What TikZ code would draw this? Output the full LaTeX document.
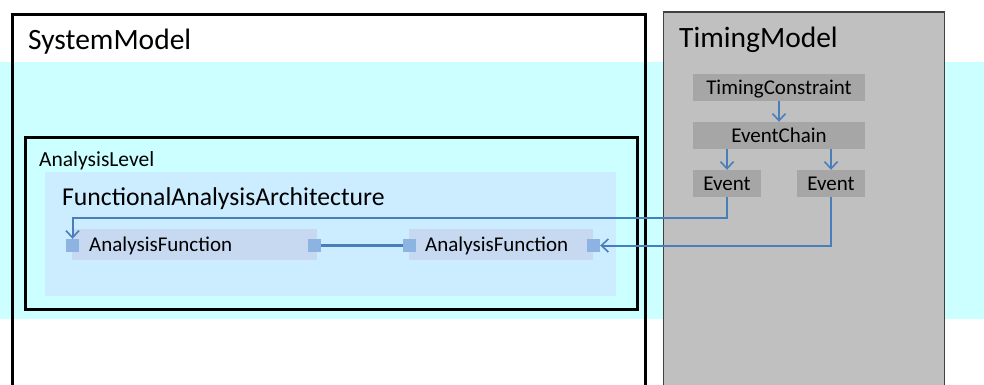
\documentclass[tikz,border=0pt]{standalone}
\usepackage{fontspec}
\setmainfont{Carlito}
\usetikzlibrary{arrows.meta}
\definecolor{bandcyan}{HTML}{CCFFFF}
\definecolor{faafill}{HTML}{CCECFF}
\definecolor{affill}{HTML}{C6D9F1}
\definecolor{portfill}{HTML}{8DB3E2}
\definecolor{linkblue}{HTML}{4A7EBB}
\definecolor{tmgray}{HTML}{C0C0C0}
\definecolor{tmborder}{HTML}{404040}
\definecolor{tbox}{HTML}{A6A6A6}
\tikzset{
  outerbox/.style={draw=black, line width=3pt, anchor=north west, inner sep=0pt},
  tmbox/.style={draw=tmborder, fill=tmgray, line width=1.5pt, anchor=north west, inner sep=0pt},
  faabox/.style={fill=faafill, anchor=north west, inner sep=0pt},
  afbox/.style={fill=affill, anchor=west, minimum height=31pt, inner ysep=0pt, align=left,
    font=\fontsize{21}{21}\selectfont, text height=13.8pt, text depth=0pt},
  port/.style={fill=portfill, minimum size=13pt, inner sep=0pt},
  tbx/.style={fill=tbox, minimum height=27pt, inner sep=0pt,
    font=\fontsize{21}{21}\selectfont, text height=14pt, text depth=0pt},
  title/.style={anchor=base west, inner sep=0pt},
  arr/.style={draw=linkblue, line width=2pt, -{Straight Barb[length=7pt,width=13pt,line width=1.6pt]}},
  link/.style={draw=linkblue, line width=3pt}
}
\begin{document}
\begin{tikzpicture}[x=1pt, y=-1pt]
\useasboundingbox (0,0) rectangle (984,385);
\clip (0,0) rectangle (984,385);
% cyan band
\fill[bandcyan] (0,62) rectangle (984,318.5);
% SystemModel
\node[outerbox, minimum width=632.5pt, minimum height=400pt] (sys) at (11,13.5) {};
\node[title, font=\fontsize{29.5}{29.5}\selectfont] (systitle) at (28,49.3) {SystemModel};
% TimingModel
\node[tmbox, minimum width=281pt, minimum height=400pt] (tm) at (662.5,11.5) {};
\node[title, font=\fontsize{29.5}{29.5}\selectfont] (tmtitle) at (679,47.7) {TimingModel};
% AnalysisLevel
\node[outerbox, minimum width=612pt, minimum height=171.5pt] (al) at (23.5,136) {};
\node[title, font=\fontsize{21.5}{21.5}\selectfont] (altitle) at (39,166) {AnalysisLevel};
% FunctionalAnalysisArchitecture
\node[faabox, minimum width=571pt, minimum height=124pt] (faa) at (45,172) {};
\node[title, font=\fontsize{25.7}{25.7}\selectfont] (faatitle) at (62,205) {FunctionalAnalysisArchitecture};
% Analysis functions
\node[afbox, minimum width=245pt, inner xsep=17pt, text width=211pt] (af1) at (72,244.5) {AnalysisFunction};
\node[afbox, minimum width=184pt, inner xsep=16pt, text width=152pt] (af2) at (409,244.5) {AnalysisFunction};
% ports
\node[port] (p1) at (72.5,245.5) {};
\node[port] (p2) at (314.5,245.5) {};
\node[port] (p3) at (409.5,245.5) {};
\node[port] (p4) at (593.5,245.5) {};
% timing boxes
\node[tbx, minimum width=172pt] (tc) at (779,87.5) {TimingConstraint};
\node[tbx, minimum width=172pt] (ec) at (779,135.5) {EventChain};
\node[tbx, minimum width=68pt] (e1) at (727,183.5) {Event};
\node[tbx, minimum width=68pt] (e2) at (831,183.5) {Event};
% connectors
\draw[arr] (tc.south) -- (ec.north);
\draw[arr] (e1.north |- ec.south) -- (e1.north);
\draw[arr] (e2.north |- ec.south) -- (e2.north);
\draw[link] (p2.east) -- (p3.west);
\draw[arr] (e1.south) -- ++(0,21) -| (p1.north);
\draw[arr] (e2.south) |- (p4.east);
\end{tikzpicture}
\end{document}
